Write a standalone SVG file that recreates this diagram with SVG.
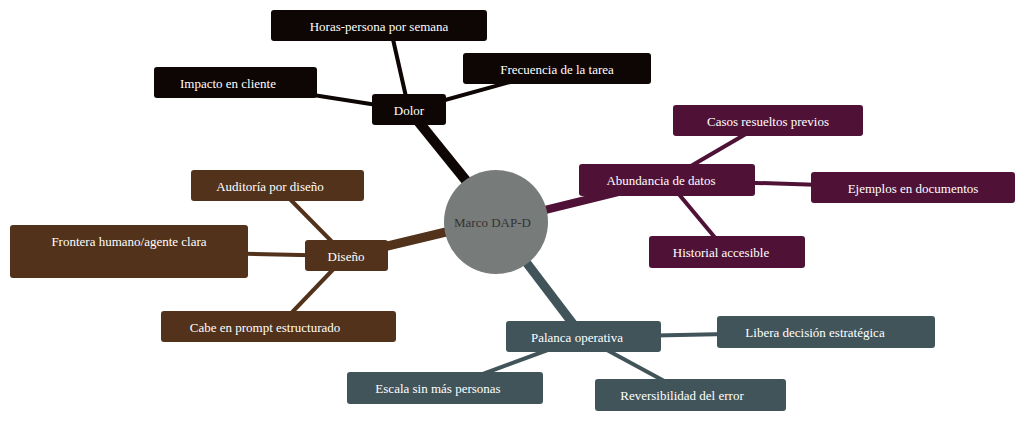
<svg xmlns="http://www.w3.org/2000/svg" width="1033" height="426" viewBox="0 0 1033 426">
<style>
text{font-family:"Liberation Serif","DejaVu Serif",serif;font-size:13px;fill:#fff;text-anchor:middle;dominant-baseline:central}
.d{fill:#0e0505}.p{fill:#4f1236}.b{fill:#52321b}.s{fill:#41545a}
</style>
<defs><clipPath id="cc"><rect x="448" y="200" width="90" height="44"/></clipPath></defs>
<rect width="1033" height="426" fill="#fff"/>
<g id="connectors" fill="none" stroke-linecap="butt">
<g stroke="#0e0505" stroke-width="4"><line x1="390" y1="26" x2="409" y2="110"/><line x1="557" y1="69" x2="409" y2="110"/><line x1="236" y1="83" x2="409" y2="110"/></g>
<line x1="409" y1="110" x2="472" y2="188" stroke="#0e0505" stroke-width="10"/>
<g stroke="#4f1236" stroke-width="4"><line x1="768" y1="121" x2="667" y2="180"/><line x1="913" y1="188" x2="667" y2="180"/><line x1="727" y1="252" x2="667" y2="180"/></g>
<line x1="545" y1="210" x2="667" y2="180" stroke="#4f1236" stroke-width="8"/>
<g stroke="#52321b" stroke-width="4"><line x1="277" y1="186" x2="346" y2="256"/><line x1="129" y1="251" x2="346" y2="256"/><line x1="278" y1="327" x2="346" y2="256"/></g>
<line x1="346" y1="256" x2="446" y2="232" stroke="#52321b" stroke-width="9"/>
<g stroke="#41545a" stroke-width="4"><line x1="826" y1="332" x2="583" y2="337"/><line x1="445" y1="388" x2="583" y2="337"/><line x1="690" y1="395" x2="583" y2="337"/></g>
<line x1="526" y1="262" x2="583" y2="337" stroke="#41545a" stroke-width="9"/>
</g>
<g id="center"><circle cx="496" cy="222" r="52" fill="#777b7a"/><text x="496" y="222" clip-path="url(#cc)" style="fill:#333;text-anchor:start" dx="-42">Marco DAP-D</text></g>
<g id="dolor"><rect class="d" x="372" y="94" width="74" height="31" rx="3"/><text x="409" y="110">Dolor</text></g>
<g id="horas"><rect class="d" x="271" y="10" width="216" height="31" rx="3"/><text x="379" y="26">Horas-persona por semana</text></g>
<g id="frecuencia"><rect class="d" x="463" y="53" width="188" height="31" rx="3"/><text x="557" y="69">Frecuencia de la tarea</text></g>
<g id="impacto"><rect class="d" x="154" y="67" width="163" height="31" rx="3"/><text x="228" y="83">Impacto en cliente</text></g>
<g id="abundancia"><rect class="p" x="579" y="164" width="176" height="32" rx="3"/><text x="661" y="180">Abundancia de datos</text></g>
<g id="casos"><rect class="p" x="673" y="105" width="190" height="31" rx="3"/><text x="768" y="121">Casos resueltos previos</text></g>
<g id="ejemplos"><rect class="p" x="811" y="172" width="204" height="31" rx="3"/><text x="913" y="188">Ejemplos en documentos</text></g>
<g id="historial"><rect class="p" x="649" y="236" width="156" height="32" rx="3"/><text x="721" y="252">Historial accesible</text></g>
<g id="diseno"><rect class="b" x="305" y="240" width="83" height="31" rx="3"/><text x="346" y="256">Diseño</text></g>
<g id="auditoria"><rect class="b" x="191" y="170" width="173" height="31" rx="3"/><text x="270" y="186">Auditoría por diseño</text></g>
<g id="frontera"><rect class="b" x="10" y="225" width="238" height="53" rx="3"/><text x="129" y="241">Frontera humano/agente clara</text></g>
<g id="cabe"><rect class="b" x="161" y="311" width="235" height="31" rx="3"/><text x="265" y="327">Cabe en prompt estructurado</text></g>
<g id="palanca"><rect class="s" x="506" y="321" width="155" height="31" rx="3"/><text x="577" y="337">Palanca operativa</text></g>
<g id="libera"><rect class="s" x="717" y="316" width="218" height="32" rx="3"/><text x="815" y="332">Libera decisión estratégica</text></g>
<g id="escala"><rect class="s" x="347" y="372" width="196" height="32" rx="3"/><text x="438" y="388">Escala sin más personas</text></g>
<g id="reversibilidad"><rect class="s" x="595" y="379" width="191" height="32" rx="3"/><text x="682" y="395">Reversibilidad del error</text></g>
</svg>
